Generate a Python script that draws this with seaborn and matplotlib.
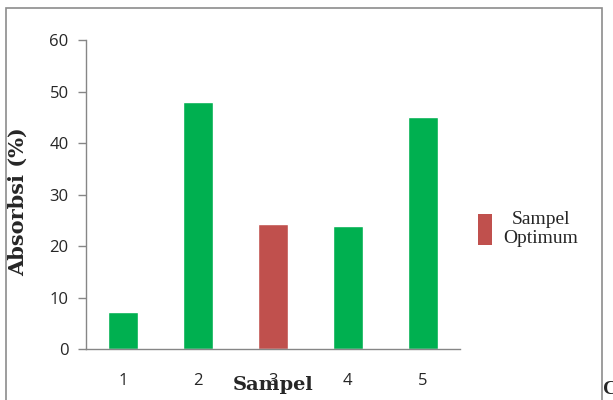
import matplotlib
matplotlib.use("Agg")
import matplotlib.pyplot as plt
import seaborn as sns
from matplotlib.patches import Rectangle, Patch

samples = ["1", "2", "3", "4", "5"]
absorbsi = [7.2, 48.0, 24.3, 23.9, 45.0]
kind = ["Sampel", "Sampel", "Sampel Optimum", "Sampel", "Sampel"]
yticks = [0, 10, 20, 30, 40, 50, 60]

GREEN = "#00B050"
RED = "#C0504D"
AXIS = "#868686"

sns.set_style("white")
plt.rcParams["font.family"] = ["Open Sans", "DejaVu Sans"]

fig = plt.figure(figsize=(6.13, 4.00), dpi=100)
L, B, W, H = 86, 349, 374, 309
ax = fig.add_axes([L/613, 1-B/400, W/613, H/400])

sns.barplot(x=samples, y=absorbsi, hue=kind, palette={"Sampel": GREEN, "Sampel Optimum": RED},
            dodge=False, width=0.4, saturation=1, legend=False, ax=ax)

ax.set_ylim(0, 60)
ax.set_yticks(yticks)
ax.set_xlim(-0.5, 4.5)
for s in ["top", "right"]:
    ax.spines[s].set_visible(False)
for s in ["left", "bottom"]:
    ax.spines[s].set_color(AXIS)
    ax.spines[s].set_linewidth(1.0)
ax.tick_params(axis="y", length=5.5, width=1.0, color=AXIS, labelsize=12, pad=7, left=True, labelcolor="#262626")
ax.tick_params(axis="x", length=0, labelsize=12, pad=17, labelcolor="#262626")

ax.set_ylabel("Absorbsi (%)", fontsize=15, fontweight="bold", family="DejaVu Serif")
ax.yaxis.set_label_coords(-(L-28)/W, (B-202)/H)
ax.set_xlabel("Sampel", fontsize=14, fontweight="bold", family="DejaVu Serif")
ax.xaxis.set_label_coords((273-L)/W, -(385-B)/H)
ax.xaxis.label.set_va("center")

handle = Patch(facecolor=RED, edgecolor="none")
leg = fig.legend([handle], ["Sampel\nOptimum"], loc="center left", bbox_to_anchor=(460/613, 1-229/400),
                 frameon=False, prop={"family": "Liberation Serif", "size": 14},
                 handlelength=0.75, handleheight=2.1, handletextpad=0.6)
for t in leg.get_texts():
    t.set_ha("center")

# outer chart border
fig.patches.append(Rectangle((6/613, -0.05), 596/613, 1.05 - 8/400, transform=fig.transFigure,
                             fill=False, edgecolor="#8c8c8c", linewidth=1.2))
fig.text(603/613, 1-390/400, "C", fontsize=14, fontweight="bold", family="Liberation Serif",
         va="center", ha="left")

fig.savefig("out.png", dpi=100)
